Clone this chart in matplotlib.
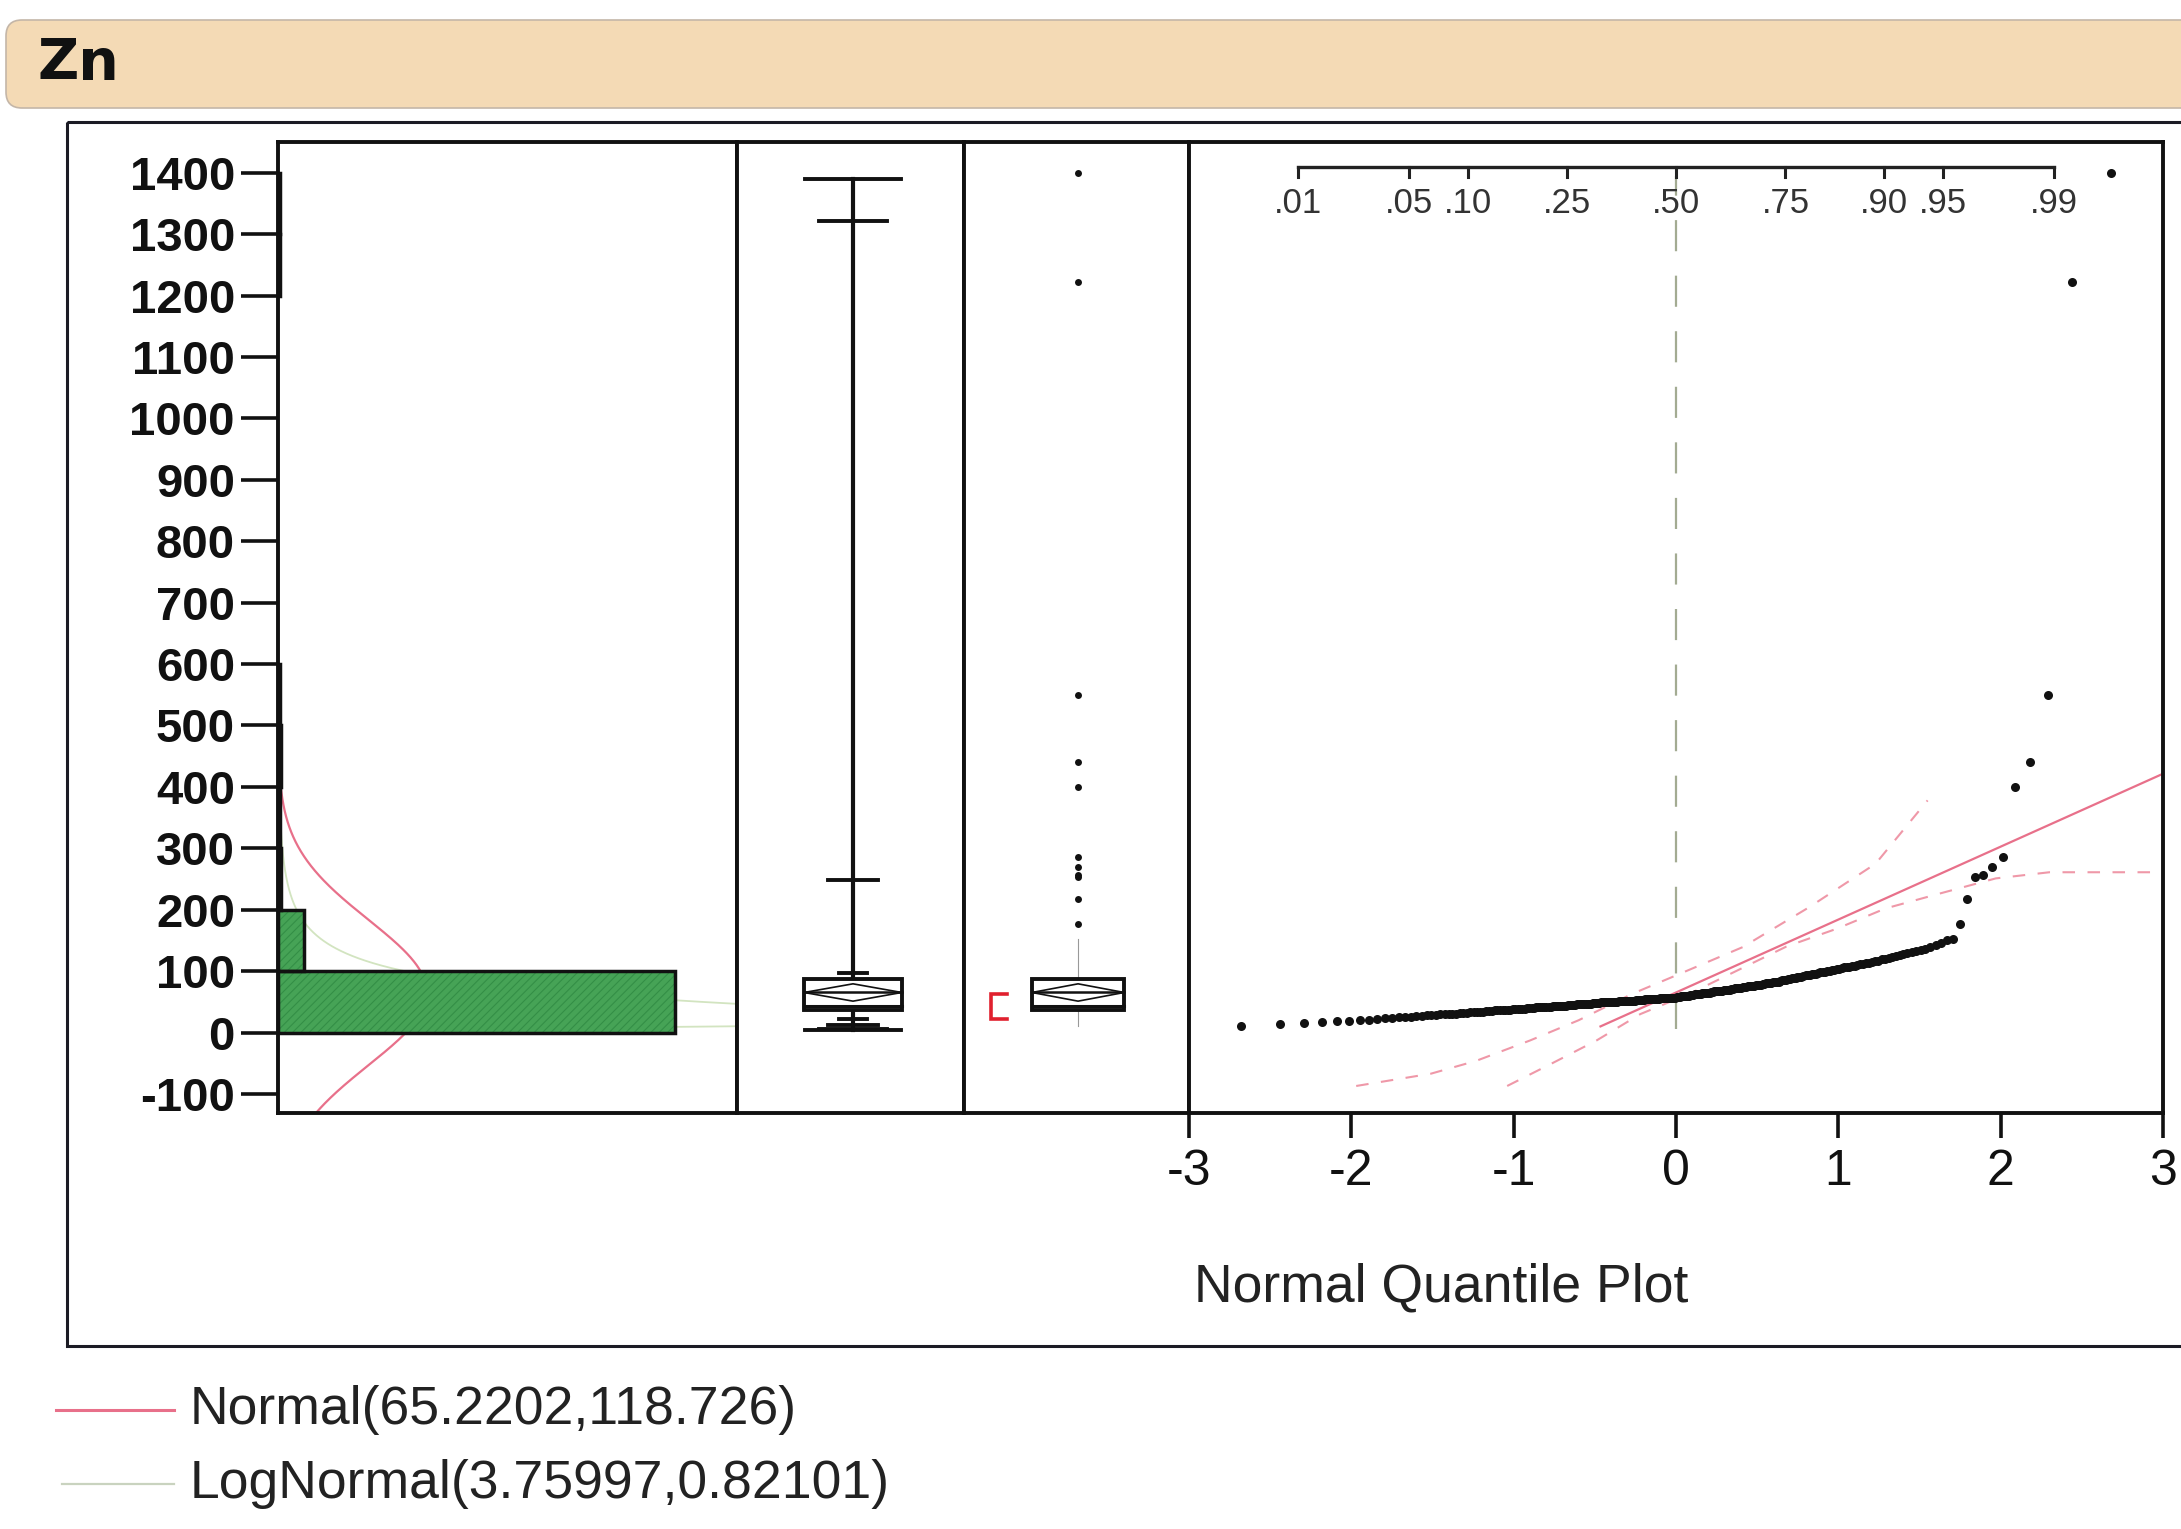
import numpy as np
import matplotlib.pyplot as plt
from matplotlib.patches import FancyBboxPatch, Rectangle
from statistics import NormalDist

plt.rcParams['font.family'] = ['Liberation Sans', 'DejaVu Sans']
plt.rcParams['axes.unicode_minus'] = False
plt.rcParams['hatch.linewidth'] = 0.8

W, H = 2181, 1529

# Zn values, sorted (one dot each in the normal quantile plot)
zn = np.array([
    10, 14, 15, 17, 18, 19, 20, 21, 22, 23, 24, 25, 25, 26, 27, 27, 28, 28, 29, 30,
    30, 30, 31, 31, 32, 32, 32, 33, 33, 34, 34, 34, 35, 35, 35, 36, 36, 36, 37, 37,
    37, 37, 38, 38, 38, 39, 39, 39, 40, 40, 40, 40, 41, 41, 41, 41, 42, 42, 42, 42,
    43, 43, 43, 43, 44, 44, 44, 44, 45, 45, 45, 45, 45, 46, 46, 46, 46, 47, 47, 47,
    47, 47, 48, 48, 48, 48, 48, 49, 49, 49, 49, 49, 50, 50, 50, 50, 50, 50, 51, 51,
    51, 51, 51, 51, 52, 52, 52, 52, 52, 53, 53, 53, 53, 53, 53, 54, 54, 54, 54, 55,
    55, 55, 55, 55, 55, 56, 56, 56, 56, 56, 56, 57, 57, 57, 57, 57, 58, 58, 58, 59,
    59, 59, 60, 60, 60, 61, 61, 61, 62, 62, 63, 63, 63, 64, 64, 64, 65, 65, 65, 66,
    66, 67, 67, 67, 68, 68, 68, 69, 69, 70, 70, 70, 71, 71, 72, 72, 72, 73, 73, 74,
    74, 74, 75, 75, 76, 76, 76, 77, 77, 78, 78, 79, 79, 80, 80, 81, 81, 82, 82, 83,
    83, 84, 85, 85, 86, 87, 87, 88, 88, 89, 90, 91, 91, 92, 93, 93, 94, 95, 95, 96,
    97, 98, 98, 99, 100, 101, 102, 102, 103, 104, 105, 106, 106, 107, 108, 109, 110, 111, 112, 113,
    114, 115, 116, 117, 119, 120, 121, 123, 124, 126,
    128, 129, 131, 133, 135, 136, 139, 142, 146, 150, 153,
    176, 218, 253, 256, 270, 286, 400, 440, 550, 1222, 1400,
])

# histogram: bins of width 100 starting at 0
bin_width = 100
hist_counts = [244, 16, 2, 1, 2, 1, 0, 0, 0, 0, 0, 0, 1, 1]

# quantile box plot: max, 99.5%, 97.5%, 90%, 10%, 2.5%, 0.5%, min
qbox_values = [1389, 1321, 249, 97, 22, 12, 6, 4]
box_q1, box_median, box_q3 = 37, 44, 87
shortest_half = [22, 62]

normal_fit = (65.2202, 118.726)
lognormal_fit = (3.75997, 0.82101)

prob_ticks = [0.01, 0.05, 0.10, 0.25, 0.50, 0.75, 0.90, 0.95, 0.99]
prob_labels = [".01", ".05", ".10", ".25", ".50", ".75", ".90", ".95", ".99"]

# confidence bands on the quantile plot (normal quantile, Zn)
band_hi_z = [-1.97, -1.51, -1.23, -0.90, -0.60, -0.27, 0.0, 0.41, 0.82, 1.23, 1.55]
band_hi_v = [-87, -67, -46, -13, 20, 63, 93, 139, 204, 275, 378]
band_lo_z = [-1.04, -0.77, -0.49, -0.22, 0.09, 0.68, 0.99, 1.29, 1.62, 1.97, 2.3, 3.0]
band_lo_v = [-87, -51, -13, 30, 64, 140, 169, 202, 226, 251, 261, 261]

y_range = (-131, 1450)
ink = '#111111'
pink = '#e8708a'

fig = plt.figure(figsize=(W / 100, H / 100), dpi=100)


def px_axes(x0, y0, x1, y1):
    return fig.add_axes([x0 / W, 1 - y1 / H, (x1 - x0) / W, (y1 - y0) / H])


# page furniture in pixel coordinates
page = fig.add_axes([0, 0, 1, 1])
page.set_xlim(0, W)
page.set_ylim(H, 0)
page.axis('off')
page.add_patch(FancyBboxPatch((6, 20), 2400, 88, boxstyle="round,pad=0,rounding_size=16",
                              fc='#f4dab5', ec='#c4b6a8', lw=1.2))
page.text(38, 64, "Zn", fontsize=41, fontweight='bold', family='DejaVu Sans',
          va='center', ha='left', color=ink)
page.add_patch(Rectangle((67, 122), 2400, 1224, fill=False, ec='#1b1b24', lw=2.2))
page.text(1441, 1287, "Normal Quantile Plot", fontsize=38.5, ha='center', va='center', color='#222')

mu, sd = normal_fit
lmu, lsd = lognormal_fit
page.plot([56, 174], [1410, 1410], color=pink, lw=2.2)
page.text(190, 1410, f"Normal({mu:.4f},{sd:.3f})", fontsize=38.5, va='center', color='#222')
page.plot([62, 174], [1484, 1484], color='#c9d3bf', lw=1.6)
page.text(190, 1484, f"LogNormal({lmu:.5f},{lsd:.5f})", fontsize=38.5, va='center', color='#222')

hist = px_axes(278, 142, 737, 1113)
qbox = px_axes(737, 142, 964, 1113)
obox = px_axes(964, 142, 1189, 1113)
qq = px_axes(1189, 142, 2163, 1113)

for ax in (hist, qbox, obox, qq):
    ax.set_ylim(*y_range)
    for sp in ax.spines.values():
        sp.set_linewidth(2.8)
        sp.set_color(ink)

# --- histogram with fitted densities ---
n = len(zn)
hist.set_xlim(0, 282)
hist.set_xticks([])
hist.set_yticks(np.arange(-100, 1401, 100))
hist.tick_params(axis='y', direction='out', length=27, width=2.6, pad=4,
                 labelsize=34, colors=ink)
for lbl in hist.get_yticklabels():
    lbl.set_fontweight('bold')

yy = np.linspace(y_range[0], y_range[1], 1200)
norm_curve = n * bin_width * np.exp(-(yy - mu) ** 2 / (2 * sd ** 2)) / (sd * np.sqrt(2 * np.pi))
hist.plot(norm_curve, yy, color=pink, lw=1.6, zorder=1)
yp = yy[yy > 0]
logn_curve = n * bin_width * np.exp(-(np.log(yp) - lmu) ** 2 / (2 * lsd ** 2)) / (yp * lsd * np.sqrt(2 * np.pi))
hist.plot(logn_curve, yp, color='#d2e4c0', lw=1.3, zorder=1)

counts = np.array(hist_counts)
lows = np.arange(len(counts)) * bin_width
keep = counts > 0
hist.barh(lows[keep], counts[keep], height=bin_width, align='edge', color='#46a356',
          edgecolor='#348f46', hatch='////', lw=0, zorder=2)
hist.barh(lows[keep], counts[keep], height=bin_width, align='edge', fill=False,
          edgecolor=ink, lw=2.5, zorder=3)


def draw_box(ax, xc, bw):
    ax.add_patch(Rectangle((xc - bw / 2, box_q1), bw, box_q3 - box_q1, fc='white',
                           ec=ink, lw=2.8, zorder=3))
    ax.plot([xc - bw / 2, xc + bw / 2], [box_median] * 2, color=ink, lw=2.2, zorder=4)
    ci = 1.96 * sd / np.sqrt(n)
    ax.plot([xc - bw / 2, xc, xc + bw / 2, xc, xc - bw / 2],
            [mu, mu + ci, mu, mu - ci, mu], color=ink, lw=1.2, zorder=4)
    ax.plot([xc - bw / 2, xc + bw / 2], [mu] * 2, color=ink, lw=1.8, zorder=4)


# --- quantile box plot ---
qbox.set_xlim(0, 1)
qbox.set_xticks([])
qbox.set_yticks([])
xc = 0.511
cap_w = [0.42, 0.30, 0.22, 0.12, 0.12, 0.22, 0.30, 0.42]
qbox.plot([xc, xc], [min(qbox_values), max(qbox_values)], color=ink, lw=3.0, zorder=2)
for v, w in zip(qbox_values, cap_w):
    qbox.plot([xc - w / 2, xc + w / 2], [v, v], color=ink, lw=2.8, zorder=2)
draw_box(qbox, xc, 0.43)

# --- outlier box plot ---
obox.set_xlim(0, 1)
obox.set_xticks([])
obox.set_yticks([])
xc = 0.507
fence = box_q3 + 1.5 * (box_q3 - box_q1)
inside = zn[zn <= fence]
obox.plot([xc, xc], [inside.min(), inside.max()], color='#999', lw=0.8, zorder=2)
draw_box(obox, xc, 0.41)
outliers = zn[zn > fence]
obox.plot(np.full(len(outliers), xc), outliers, 'o', color=ink, ms=5, mew=0)
bx0, bx1 = 0.12, 0.19
obox.plot([bx1, bx0, bx0, bx1], [shortest_half[0], shortest_half[0],
                                  shortest_half[1], shortest_half[1]],
          color='#e0202e', lw=2.6, solid_joinstyle='miter')

# --- normal quantile plot ---
qq.set_xlim(-3, 3)
qq.set_xticks(range(-3, 4))
qq.set_yticks([])
qq.tick_params(axis='x', direction='out', length=18, width=2.6, pad=8,
               labelsize=36, colors=ink)

nd = NormalDist()
zq = np.array([nd.inv_cdf(i / (n + 1)) for i in range(1, n + 1)])

qq.plot([0, 0], [5, 1395], color='#a3ab92', lw=1.6, dashes=(14, 11), zorder=1)
qq.plot(band_hi_z, band_hi_v, color='#ef98a8', lw=1.5, dashes=(6, 6), zorder=2)
qq.plot(band_lo_z, band_lo_v, color='#ef98a8', lw=1.5, dashes=(6, 6), zorder=2)
zline = np.linspace((zn.min() - mu) / sd, 3, 50)
qq.plot(zline, mu + sd * zline, color=pink, lw=1.6, zorder=2)
qq.plot(zq, zn, 'o', color=ink, ms=6.5, mew=0, zorder=4)

# probability scale along the top
pz = [nd.inv_cdf(p) for p in prob_ticks]
tr = qq.get_xaxis_transform()
qq.plot([pz[0], pz[-1]], [0.974, 0.974], color='#222', lw=2.4, transform=tr)
for z, lab in zip(pz, prob_labels):
    qq.plot([z, z], [0.974, 0.964], color='#222', lw=2.2, transform=tr)
    qq.text(z, 0.937, lab, transform=tr, ha='center', va='center', fontsize=25, color='#333')

fig.savefig("out.png", dpi=100, facecolor='white')
